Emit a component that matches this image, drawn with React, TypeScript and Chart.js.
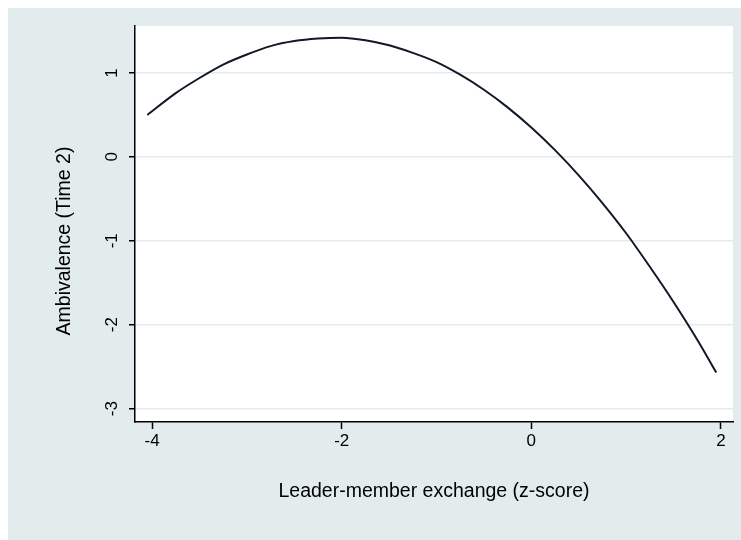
import React, { useEffect, useRef } from "react";
import { Chart, registerables } from "chart.js";

Chart.register(...registerables);

// Predicted ambivalence across leader-member exchange
const lmxScores = [
  -4.05, -3.75, -3.5, -3.25, -3.0, -2.75, -2.5, -2.25, -2.0, -1.75, -1.5, -1.25,
  -1.0, -0.75, -0.5, -0.25, 0.0, 0.25, 0.5, 0.75, 1.0, 1.25, 1.5, 1.75, 1.95,
];
const ambivalence = [
  0.5, 0.76, 0.94, 1.1, 1.22, 1.32, 1.38, 1.41, 1.42, 1.39, 1.33, 1.24,
  1.13, 0.98, 0.8, 0.59, 0.35, 0.08, -0.22, -0.55, -0.91, -1.31, -1.73, -2.18, -2.57,
];

const xTicks = [-4, -2, 0, 2];
const yTicks = [-3, -2, -1, 0, 1];
const xRange = [-4.18, 2.127];
const yRange = [-3.16, 1.56];

const xTitle = "Leader-member exchange (z-score)";
const yTitle = "Ambivalence (Time 2)";

const FONT = "'Liberation Sans', Arial, Helvetica, sans-serif";
const PAGE_BG = "#e2ecec";
const GRID = "#e2ecec";
const INK = "#000000";
const TICK_SIZE = 17;
const TITLE_SIZE = 19.5;

// White plot region, rotated y tick labels and the y axis title
const plotFrame = {
  id: "plotFrame",
  beforeDraw(chart: any) {
    const { ctx, chartArea } = chart;
    ctx.save();
    ctx.fillStyle = "#ffffff";
    ctx.fillRect(
      chartArea.left,
      chartArea.top,
      chartArea.right - chartArea.left,
      chartArea.bottom - chartArea.top
    );
    ctx.restore();
  },
  afterDraw(chart: any) {
    const { ctx, chartArea } = chart;
    const y = chart.scales.y;
    ctx.save();
    ctx.fillStyle = INK;
    ctx.font = `${TICK_SIZE}px ${FONT}`;
    ctx.textAlign = "center";
    ctx.textBaseline = "middle";
    for (const v of yTicks) {
      const py = y.getPixelForValue(v);
      ctx.save();
      ctx.translate(chartArea.left - 23, py);
      ctx.rotate(-Math.PI / 2);
      ctx.fillText(String(v), 0, 0);
      ctx.restore();
    }
    ctx.font = `${TITLE_SIZE}px ${FONT}`;
    ctx.save();
    ctx.translate(57, (chartArea.top + chartArea.bottom) / 2 + 17);
    ctx.rotate(-Math.PI / 2);
    ctx.fillText(yTitle, 0, 0);
    ctx.restore();
    ctx.restore();
  },
};

export default function App() {
  const canvasRef = useRef<HTMLCanvasElement | null>(null);

  useEffect(() => {
    const canvas = canvasRef.current;
    if (!canvas) return;
    const chart = new Chart(canvas, {
      type: "line",
      data: {
        datasets: [
          {
            data: lmxScores.map((x, i) => ({ x, y: ambivalence[i] })),
            borderColor: "#111827",
            borderWidth: 2,
            pointRadius: 0,
            cubicInterpolationMode: "monotone",
            fill: false,
          },
        ],
      },
      options: {
        responsive: false,
        animation: false,
        devicePixelRatio: 1,
        layout: { padding: { top: 18, right: 8, left: 0, bottom: 0 } },
        plugins: {
          legend: { display: false },
          tooltip: { enabled: false },
        },
        scales: {
          x: {
            type: "linear",
            min: xRange[0],
            max: xRange[1],
            afterBuildTicks: (scale: any) => {
              scale.ticks = xTicks.map((value) => ({ value }));
            },
            afterFit: (scale: any) => {
              scale.height = 118;
            },
            grid: {
              drawOnChartArea: false,
              drawTicks: true,
              tickLength: 7,
              tickColor: INK,
              tickWidth: 1.5,
            },
            border: { display: true, color: INK, width: 1.5 },
            ticks: {
              color: INK,
              font: { family: FONT, size: TICK_SIZE },
              padding: 2,
              maxRotation: 0,
              minRotation: 0,
              callback: (v: any) => String(v),
            },
            title: {
              display: true,
              text: xTitle,
              color: INK,
              font: { family: FONT, size: TITLE_SIZE },
              padding: { top: 0, bottom: 37 },
            },
          },
          y: {
            type: "linear",
            min: yRange[0],
            max: yRange[1],
            afterBuildTicks: (scale: any) => {
              scale.ticks = yTicks.map((value) => ({ value }));
            },
            afterFit: (scale: any) => {
              scale.width = 127;
            },
            grid: {
              color: GRID,
              lineWidth: 1.5,
              drawTicks: true,
              tickLength: 6,
              tickColor: INK,
              tickWidth: 1.5,
            },
            border: { display: true, color: INK, width: 1.5 },
            ticks: { display: false },
          },
        },
      },
      plugins: [plotFrame],
    });
    return () => chart.destroy();
  }, []);

  return (
    <div
      style={{
        position: "fixed",
        left: 8,
        top: 8,
        right: 0,
        bottom: 0,
        background: PAGE_BG,
      }}
    >
      <canvas ref={canvasRef} width={733} height={532} style={{ display: "block" }} />
    </div>
  );
}
